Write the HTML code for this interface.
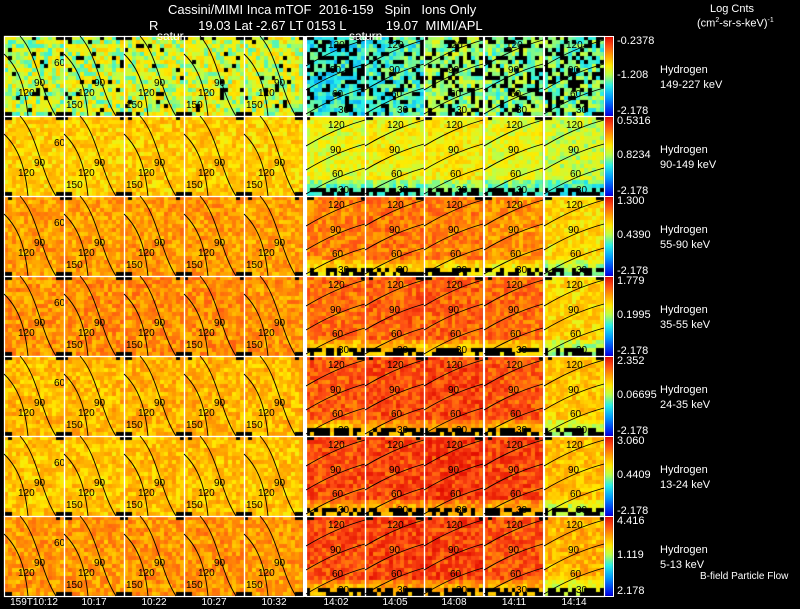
<!DOCTYPE html>
<html><head><meta charset="utf-8">
<style>
html,body{margin:0;padding:0;background:#000;}
#wrap{position:relative;width:800px;height:609px;background:#000;overflow:hidden;font-family:"Liberation Sans",sans-serif;color:#fff;}
.t{position:absolute;white-space:nowrap;font-size:12px;color:#fff;}
.s{font-size:11px;}
</style></head>
<body>
<div id="wrap">
<canvas id="cv" width="800" height="609" style="position:absolute;left:0;top:0"></canvas>
<svg id="ov" width="800" height="609" style="position:absolute;left:0;top:0"></svg>
<div class="t" style="left:168px;top:2px;font-size:13px">Cassini/MIMI Inca mTOF&nbsp; 2016-159 &nbsp; Spin &nbsp; Ions Only</div>
<div class="t" style="left:149px;top:18px;font-size:13px">R &nbsp; &nbsp; &nbsp; &nbsp; &nbsp; 19.03 Lat -2.67 LT 0153 L &nbsp; &nbsp; &nbsp; &nbsp; &nbsp; 19.07 &nbsp;MIMI/APL</div>
<div class="t" style="left:710px;top:3px;font-size:11px">Log Cnts</div>
<div class="t" style="left:697px;top:17px;font-size:11px">(cm<sup style="font-size:7px">2</sup>-sr-s-keV)<sup style="font-size:7px">-1</sup></div>
<div class="t" style="left:700px;top:571px;font-size:10px">B-field Particle Flow</div>
<div id="labels"></div>
</div>
<script>
// ---- data ----
const timeLabels = ["159T10:12","10:17","10:22","10:27","10:32","14:02","14:05","14:08","14:11","14:14"];
const energyBands = ["149-227 keV","90-149 keV","55-90 keV","35-55 keV","24-35 keV","13-24 keV","5-13 keV"];
const cbMax = ["-0.2378","0.5316","1.300","1.779","2.352","3.060","4.416"];
const cbMid = ["-1.208","0.8234","0.4390","0.1995","0.06695","0.4409","1.119"];
const cbMin = ["-2.178","-2.178","-2.178","-2.178","-2.178","-2.178","2.178"];
// panel mean level (0..1 of colour scale), rows = energy bands, cols = time panels
const levels = [
 [0.52,0.53,0.54,0.55,0.54, 0.32,0.36,0.44,0.42,0.40],
 [0.67,0.67,0.68,0.68,0.67, 0.58,0.60,0.62,0.58,0.54],
 [0.75,0.75,0.76,0.76,0.75, 0.80,0.82,0.80,0.77,0.65],
 [0.77,0.78,0.78,0.78,0.77, 0.83,0.85,0.85,0.83,0.66],
 [0.71,0.71,0.72,0.72,0.71, 0.86,0.88,0.89,0.87,0.68],
 [0.69,0.69,0.70,0.70,0.69, 0.88,0.89,0.91,0.89,0.70],
 [0.76,0.76,0.77,0.77,0.76, 0.88,0.90,0.90,0.87,0.72]
];
const texture = [0.08,-0.05,0.12,-0.10,0.02,0.15,-0.14,0.05,-0.02,0.10,-0.08,0.00,0.13,-0.12,0.06,-0.04,0.09,-0.15,0.03,0.11,-0.07,0.14,-0.01,-0.11,0.07,0.04,-0.09,0.12,-0.03,0.01,-0.13,0.10,0.06,-0.06,0.15,-0.10,0.02,0.08,-0.12,0.05,0.00];

// ---- layout ----
const panelX = [4,64,124,184,244,306,365,424,484,544];
const rowTop = 36, rowH = 80, nCols = 15, nRows = 20;
const NS = "http://www.w3.org/2000/svg";
const stops = [[0,[0,0,230]],[0.22,[0,150,255]],[0.38,[40,240,230]],[0.52,[190,255,70]],[0.63,[255,235,0]],[0.76,[255,160,0]],[0.88,[255,80,20]],[1,[225,10,0]]];
function cmap(v){v=Math.max(0,Math.min(1,v));for(let i=1;i<stops.length;i++){if(v<=stops[i][0]){const a=stops[i-1],b=stops[i];const f=(v-a[0])/(b[0]-a[0]);const c=a[1].map((x,k)=>Math.round(x+(b[1][k]-x)*f));return `rgb(${c})`;}}return "rgb(225,10,0)";}
const cv=document.getElementById('cv').getContext('2d');
const ov=document.getElementById('ov');
function tex(i,j,p){const s=Math.sin(i*12.9898+j*78.233+p*37.719)*43758.5453;const f=s-Math.floor(s);return texture[Math.floor(f*texture.length)];}
function yRow(r){return rowTop + r*rowH;}

for(let r=0;r<levels.length;r++){
  for(let p=0;p<panelX.length;p++){
    const x0=panelX[p], y0=yRow(r), right=p>=5;
    const w=(p===4)?59:(right?(p===9?60:59):60);
    const cw=w/nCols, ch=rowH/nRows;
    for(let i=0;i<nCols;i++)for(let j=0;j<nRows;j++){
      const t=tex(i,j,p+r*10);
      let v=levels[r][p]+t*(r===0?1:0.55);
      let black=false;
      if(r===0){ if(right? t<-0.06 : t<-0.135) black=true; }
      if(j===0 && (i<2||i>12) && t<0.05) black=true;
      if(right && r>0){
        const fromBottom=nRows-1-j;
        if(fromBottom<2 && t<0.06) black=true;
        if(fromBottom<4) v-=0.25-fromBottom*0.05;
      }
      if(!right && j===nRows-1 && (i<2||i>12)) black=true;
      cv.fillStyle=black?"#000":cmap(v);
      const xa=Math.round(x0+i*cw), xb=Math.round(x0+(i+1)*cw);
      const ya=Math.round(y0+j*ch), yb=Math.round(y0+(j+1)*ch);
      cv.fillRect(xa,ya,xb-xa,yb-ya);
    }
    const fr=document.createElementNS(NS,'rect');
    fr.setAttribute('x',x0+0.5);fr.setAttribute('y',y0+0.5);fr.setAttribute('width',w);fr.setAttribute('height',rowH);
    fr.setAttribute('fill','none');fr.setAttribute('stroke','#fff');fr.setAttribute('stroke-width','1.2');
    
    
    ov.appendChild(fr);
    const g=document.createElementNS(NS,'g');
    
    
    let paths, labs;
    if(!right){
      paths=[`M${x0+16},${y0} C${x0+34},${y0+20} ${x0+36},${y0+55} ${x0+52},${y0+80}`,`M${x0},${y0+18} C${x0+18},${y0+35} ${x0+22},${y0+60} ${x0+24},${y0+80}`];
      labs=[[x0+30,y0+50,"90"],[x0+14,y0+60,"120"],[x0+2,y0+72,p===0?"":"150"],[x0+50,y0+30,p===0?"60":""]];
    } else {
      paths=[`M${x0},${y0+30} Q${x0+30},${y0+12} ${x0+w},${y0+4}`,`M${x0},${y0+54} Q${x0+30},${y0+36} ${x0+w},${y0+28}`,`M${x0},${y0+78} Q${x0+30},${y0+60} ${x0+w},${y0+52}`];
      labs=[[x0+22,y0+12,"120"],[x0+24,y0+37,"90"],[x0+26,y0+61,"60"],[x0+32,y0+77,"30"]];
    }
    paths.forEach(d=>{const pa=document.createElementNS(NS,'path');pa.setAttribute('d',d);pa.setAttribute('fill','none');pa.setAttribute('stroke','#000');pa.setAttribute('stroke-width','0.9');
      
      
      g.appendChild(pa);});
    labs.forEach(l=>{if(!l[2])return;const tx=document.createElementNS(NS,'text');tx.setAttribute('x',l[0]);tx.setAttribute('y',l[1]);tx.setAttribute('font-size','10');tx.setAttribute('font-family','Liberation Sans, sans-serif');tx.setAttribute('fill','#000');tx.textContent=l[2];
      
      
      g.appendChild(tx);});
    ov.appendChild(g);
  }
  const y0=yRow(r);
  for(let k=0;k<rowH;k++){cv.fillStyle=cmap(1-k/(rowH-1));cv.fillRect(605,y0+k,8,1);}
  const cb=document.createElementNS(NS,'rect');
  cb.setAttribute('x',604.5);cb.setAttribute('y',y0+0.5);cb.setAttribute('width',9);cb.setAttribute('height',rowH);cb.setAttribute('fill','none');cb.setAttribute('stroke','#fff');
  
  
  ov.appendChild(cb);
}
const sep=document.createElementNS(NS,'rect');
sep.setAttribute('x',303);sep.setAttribute('y',36);sep.setAttribute('width',3);sep.setAttribute('height',561);sep.setAttribute('fill','#fff');


ov.appendChild(sep);

const L=document.getElementById('labels');
function addLabel(txt,x,y,cls,name){const d=document.createElement('div');d.className='t '+(cls||'');d.style.left=x+'px';d.style.top=y+'px';d.textContent=txt;
  
  
  L.appendChild(d);return d;}
addLabel("satur",157,29,'','saturn-label-left');
addLabel("saturn",349,29,'','saturn-label-right');
for(let r=0;r<energyBands.length;r++){
  const y0=yRow(r);
  addLabel(cbMax[r],617,y0-1,'s','colorbar-max-label');
  addLabel(cbMid[r],617,y0+33,'s','colorbar-mid-label');
  addLabel(cbMin[r],617,y0+69,'s','colorbar-min-label');
  addLabel("Hydrogen",660,y0+28,'s','species-label');
  addLabel(energyBands[r],660,y0+43,'s','energy-band-label');
}
for(let p=0;p<timeLabels.length;p++){
  const d=addLabel(timeLabels[p],panelX[p]+30,597,'s','time-tick-label');
  d.style.transform='translateX(-50%)';d.style.fontSize='10px';
}
</script>
</body></html>
